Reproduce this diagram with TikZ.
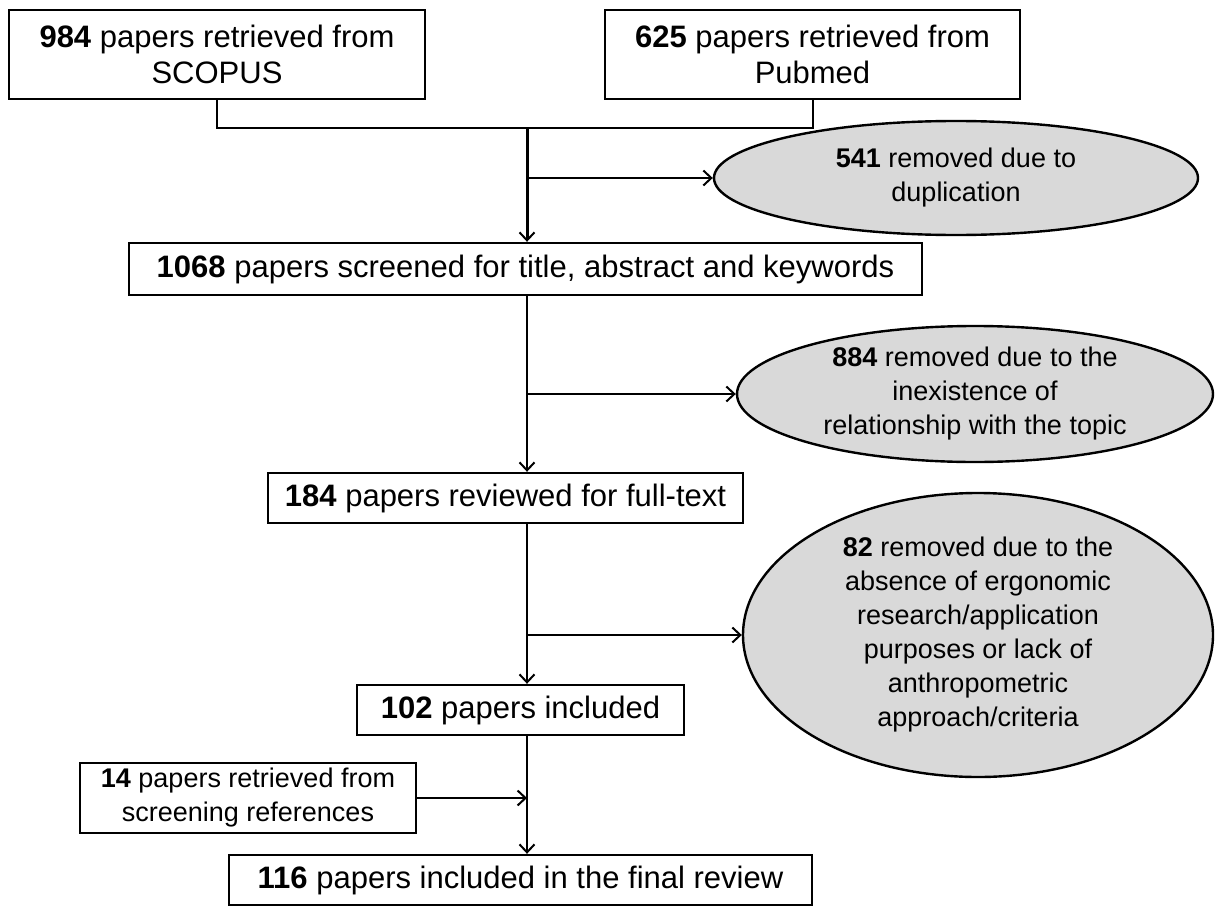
\documentclass[tikz,border=0pt]{standalone}
\usepackage{fontspec}
\setmainfont{Liberation Sans}
\usetikzlibrary{arrows.meta,positioning,shapes.geometric}

\begin{document}
\begin{tikzpicture}[x=1pt, y=-1pt,
      >={Straight Barb[length=8pt,width=15pt,line width=2pt]},
      line width=2pt,
      box/.style={draw, line width=2.4pt, inner sep=0pt, align=center, font=\fontsize{31}{36}\selectfont},
      smallbox/.style={box, font=\fontsize{27}{34}\selectfont},
      drop/.style={draw, ellipse, fill=black!15, line width=2.4pt, inner sep=0pt, align=center, font=\fontsize{27}{34}\selectfont}]
    \useasboundingbox (0,0) rectangle (1215,907);
    % sources
    \node[box, minimum width=416pt, minimum height=89pt] (scopus) at (217,54.5) {\textbf{984} papers retrieved from\\SCOPUS};
    \node[box, minimum width=415pt, minimum height=89pt] (pubmed) at (812.5,54.5) {\textbf{625} papers retrieved from\\Pubmed};
    \coordinate (spine) at (527,128);
    \draw (scopus.south) |- (spine) -| (pubmed.south);
    % screening steps
    \node[box, minimum width=793pt, minimum height=52pt] (screen) at (525.5,269) {\textbf{1068} papers screened for title, abstract and keywords};
    \node[box, minimum width=475pt, minimum height=50pt] (full) at (505.5,498) {\textbf{184} papers reviewed for full-text};
    \node[box, minimum width=327pt, minimum height=50pt] (incl) at (520.5,710) {\textbf{102} papers included};
    \node[smallbox, minimum width=336pt, minimum height=70pt] (refs) at (248,798) {\textbf{14} papers retrieved from\\screening references};
    \node[box, minimum width=583pt, minimum height=50pt] (final) at (520.5,880) {\textbf{116} papers included in the final review};
    % removed
    \node[drop, minimum width=484pt, minimum height=114pt] (dup) at (956,178) {\textbf{541} removed due to\\duplication};
    \node[drop, minimum width=476pt, minimum height=136pt] (topic) at (975,394) {\textbf{884} removed due to the\\inexistence of\\relationship with the topic};
    \node[drop, minimum width=470pt, minimum height=284pt] (ergo) at (978,635) {\textbf{82} removed due to the\\absence of ergonomic\\research/application\\purposes or lack of\\anthropometric\\approach/criteria};
    % flow
    \draw[->, line width=3pt] (spine) -- (spine |- screen.north);
    \draw[->] (spine |- dup.west) -- (dup.west);
    \draw[->] (spine |- screen.south) -- (spine |- full.north);
    \draw[->] (spine |- topic.west) -- (topic.west);
    \draw[->] (spine |- full.south) -- (spine |- incl.north);
    \draw[->] (spine |- ergo.west) -- (ergo.west);
    \draw[->] (spine |- incl.south) -- (spine |- final.north);
    \draw[->] (refs.east) -- (spine |- refs.east);
  \end{tikzpicture}
\end{document}
